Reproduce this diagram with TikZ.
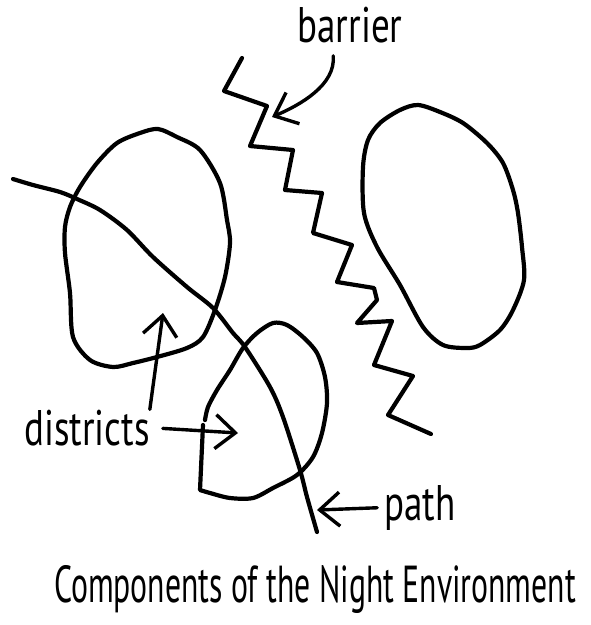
\documentclass[tikz,border=0pt]{standalone}
\usepackage{fontspec}
\usepackage{tikz}
\usetikzlibrary{arrows.meta}
\newfontfamily\handfont[FakeStretch=0.74]{PT Sans}
\newfontfamily\titlefont[FakeStretch=0.61]{PT Sans}

\begin{document}
\begin{tikzpicture}[x=1pt, y=-1pt,
  ink/.style={line width=4.2pt, line cap=round, line join=round},
  pointer/.style={line width=3.4pt, line cap=round, line join=round, -{Straight Barb[length=20pt,width=34pt]}},
  hand/.style={font=\handfont\fontsize{50}{52}\selectfont, inner sep=0pt, anchor=base}]
  \useasboundingbox (0,0) rectangle (591,625);
  % left district
  \draw[ink] plot[smooth cycle] coordinates
    {(158,129) (177,137) (200,150) (220,183) (227,220) (230,243) (225,277) (215,310) (203,337)
     (187,348) (157,357) (133,363) (113,367) (90,360) (73,337) (70,293) (65,253) (65,227)
     (70,207) (80,187) (97,163) (117,143) (140,133)};
  % right district
  \draw[ink] plot[smooth cycle] coordinates
    {(418,105) (440,112) (463,123) (487,143) (503,163) (513,190) (518,213) (522,247) (524,280)
     (513,310) (500,330) (480,345) (467,348) (443,345) (423,327) (400,285) (377,247) (364,213)
     (363,167) (368,140) (380,123) (400,110)};
  % lower district
  \draw[ink] plot[smooth] coordinates
    {(205,420) (208,407) (217,390) (230,370) (243,348) (257,333) (273,323) (287,325) (303,337)
     (317,353) (325,377) (327,403) (322,433) (313,457) (297,475) (273,488) (253,498) (230,498)
     (210,493) (200,490)} -- (203,425);
  % path
  \draw[ink] plot[smooth] coordinates
    {(13,179) (33,185) (60,192) (77,199) (100,210) (127,230) (153,257) (187,287) (213,308)
     (233,333) (245,347) (270,387) (283,417) (300,470) (307,497) (317,532)};
  % barrier
  \draw[ink] (242,58) -- (224,91) -- (267,106) -- (250,146) -- (293,150) -- (285,190) -- (322,193)
    -- (313,233) -- (352,245) -- (337,282) -- (374,288) -- (377,300) -- (357,323) -- (392,321)
    -- (374,365) -- (413,376) -- (388,415) -- (431,434);
  % labels
  \node[hand] (barrierlbl) at (350,42) {barrier};
  \node[hand] (distlbl) at (87,445) {districts};
  \node[hand] (pathlbl) at (420,520) {path};
  \node[font=\titlefont\fontsize{52}{54}\selectfont, inner sep=0pt, anchor=base] (titlelbl) at (315,602)
    {Components of the Night Environment};
  % arrow ends
  \coordinate (barriertip) at (272,117);
  \coordinate (uppertip) at (163,313);
  \coordinate (lowertip) at (238,433);
  \coordinate (pathtip) at (317,510);
  \draw[pointer, shorten <=13pt] ([xshift=-18pt]barrierlbl.south) .. controls (336,85) and (300,105) .. (barriertip);
  \draw[pointer] (distlbl.north east) -- (uppertip);
  \draw[pointer, shorten <=13pt] (distlbl.east) -- (lowertip);
  \draw[pointer, shorten <=7pt] (pathlbl.west) -- (pathtip);
\end{tikzpicture}
\end{document}
